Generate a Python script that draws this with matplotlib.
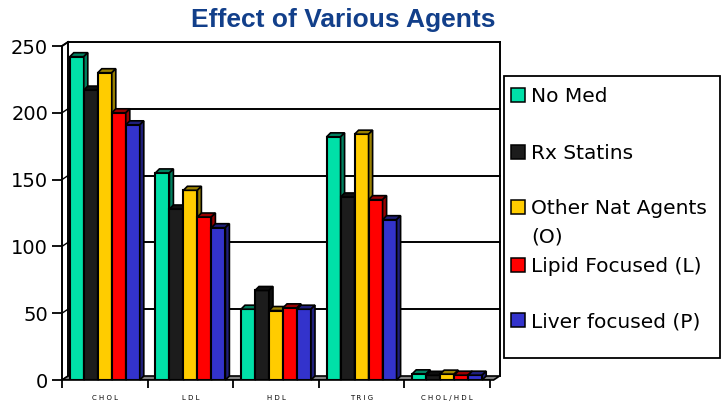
import matplotlib.pyplot as plt
from matplotlib.patches import Polygon, Rectangle
import numpy as np

# data
categories = ['CHOL', 'LDL', 'HDL', 'TRIG', 'CHOL/HDL']
series = ['No Med', 'Rx Statins', 'Other Nat Agents\n(O)', 'Lipid Focused (L)', 'Liver focused (P)']
no_med = [242, 155, 53, 182, 4.6]
rx_statins = [217, 128, 67, 137, 3.5]
other_nat = [230, 142, 52, 184, 4.4]
lipid_focused = [200, 122, 54, 135, 3.6]
liver_focused = [191, 114, 53, 120, 3.6]
values = [no_med, rx_statins, other_nat, lipid_focused, liver_focused]

front_colors = ['#00E0A8', '#1C1C1C', '#FFCC00', '#FF0000', '#3333CC']
side_colors = ['#00805F', '#0E0E0E', '#998000', '#990000', '#1F1F7A']

W, H = 723, 401
fig = plt.figure(figsize=(W / 100, H / 100), dpi=100)
# axes box in pixels
x0, x1, y0, y1 = 62, 490, 380, 46
ax = fig.add_axes([x0 / W, 1 - y0 / H, (x1 - x0) / W, (y0 - y1) / H])
ax.set_xlim(-0.5, 4.5)
ax.set_ylim(0, 250)

px_x = 5.0 / (x1 - x0)      # data units per pixel
px_y = 250.0 / (y0 - y1)

# back wall with gridlines (offset for depth)
wdx, wdy = 6 * px_x, 4 * px_y
for v in [50, 100, 150, 200, 250]:
    ax.plot([-0.5 + wdx, 4.5 + wdx * 1.6], [v + wdy, v + wdy], color='black', lw=1.4, clip_on=False, zorder=1)
ax.plot([4.5 + wdx * 1.6] * 2, [wdy, 250 + wdy], color='black', lw=1.4, clip_on=False, zorder=1)
# left wall (double line)
ax.plot([-0.5, -0.5], [0, 250], color='black', lw=1.4, clip_on=False, zorder=1)
ax.plot([-0.5 + wdx, -0.5 + wdx], [wdy, 250 + wdy], color='black', lw=1.4, clip_on=False, zorder=1)
ax.plot([-0.5, -0.5 + wdx], [250, 250 + wdy], color='black', lw=1.4, clip_on=False, zorder=1)
for v in [0, 50, 100, 150, 200, 250]:
    ax.plot([-0.5, -0.5 + wdx], [v, v + wdy], color='black', lw=1.0, clip_on=False, zorder=1)
# floor
floor = Polygon([(-0.5, 0), (4.5 + wdx * 0.6, 0), (4.5 + wdx * 1.6, wdy), (-0.5 + wdx, wdy)],
                closed=True, facecolor='#808080', edgecolor='black', lw=1.2, clip_on=False, zorder=1)
ax.add_patch(floor)

# bars
bw = 14 / (x1 - x0) * 5
ddx, ddy = 4 * px_x, 4 * px_y
x = np.arange(len(categories))
for i, vals in enumerate(values):
    xs = x + (i - 2) * bw
    ax.bar(xs, vals, width=bw, color=front_colors[i], edgecolor='black', lw=1.5, zorder=3 + i)
    for xc, v in zip(xs, vals):
        l, r = xc - bw / 2, xc + bw / 2
        top = Polygon([(l, v), (r, v), (r + ddx, v + ddy), (l + ddx, v + ddy)], closed=True,
                      facecolor=side_colors[i], edgecolor='black', lw=1.2, zorder=3 + i, clip_on=False)
        side = Polygon([(r, 0), (r + ddx, ddy), (r + ddx, v + ddy), (r, v)], closed=True,
                       facecolor=side_colors[i], edgecolor='black', lw=1.2, zorder=3 + i, clip_on=False)
        ax.add_patch(top)
        ax.add_patch(side)

for s in ax.spines.values():
    s.set_visible(False)
ax.set_yticks([0, 50, 100, 150, 200, 250])
ax.tick_params(axis='y', length=7, width=1.3, labelsize=14, pad=3)
ax.set_xticks(np.arange(-0.5, 5, 1))
ax.set_xticklabels([])
ax.tick_params(axis='x', length=6, width=1.3, direction='out')
ax.axhline(0, color='black', lw=1.4, zorder=2)
for xc, lab in zip(x, categories):
    ax.text(xc, -11, ' '.join(lab), ha='center', va='top', fontsize=5, clip_on=False)

# title
fig.text(343 / W, 1 - 20 / H, 'Effect of Various Agents', ha='center', va='center',
         fontsize=19, fontweight='bold', color='#123F8A', family='Liberation Sans')

# legend box
fig.patches.append(Rectangle((504 / W, 1 - 358 / H), 216 / W, 282 / H, transform=fig.transFigure,
                             facecolor='white', edgecolor='black', lw=1.3))
leg_y = [95, 152, 207, 265, 320]
for yy, lab, c in zip(leg_y, series, front_colors):
    fig.patches.append(Rectangle((511 / W, 1 - (yy + 7) / H), 14 / W, 14 / H, transform=fig.transFigure,
                                 facecolor=c, edgecolor='black', lw=1.1))
    for k, line in enumerate(lab.split('\n')):
        fig.text(531 / W, 1 - (yy + 7 + 28 * k) / H, line, ha='left', va='baseline', fontsize=14.5)

fig.savefig('out.png', dpi=100)
